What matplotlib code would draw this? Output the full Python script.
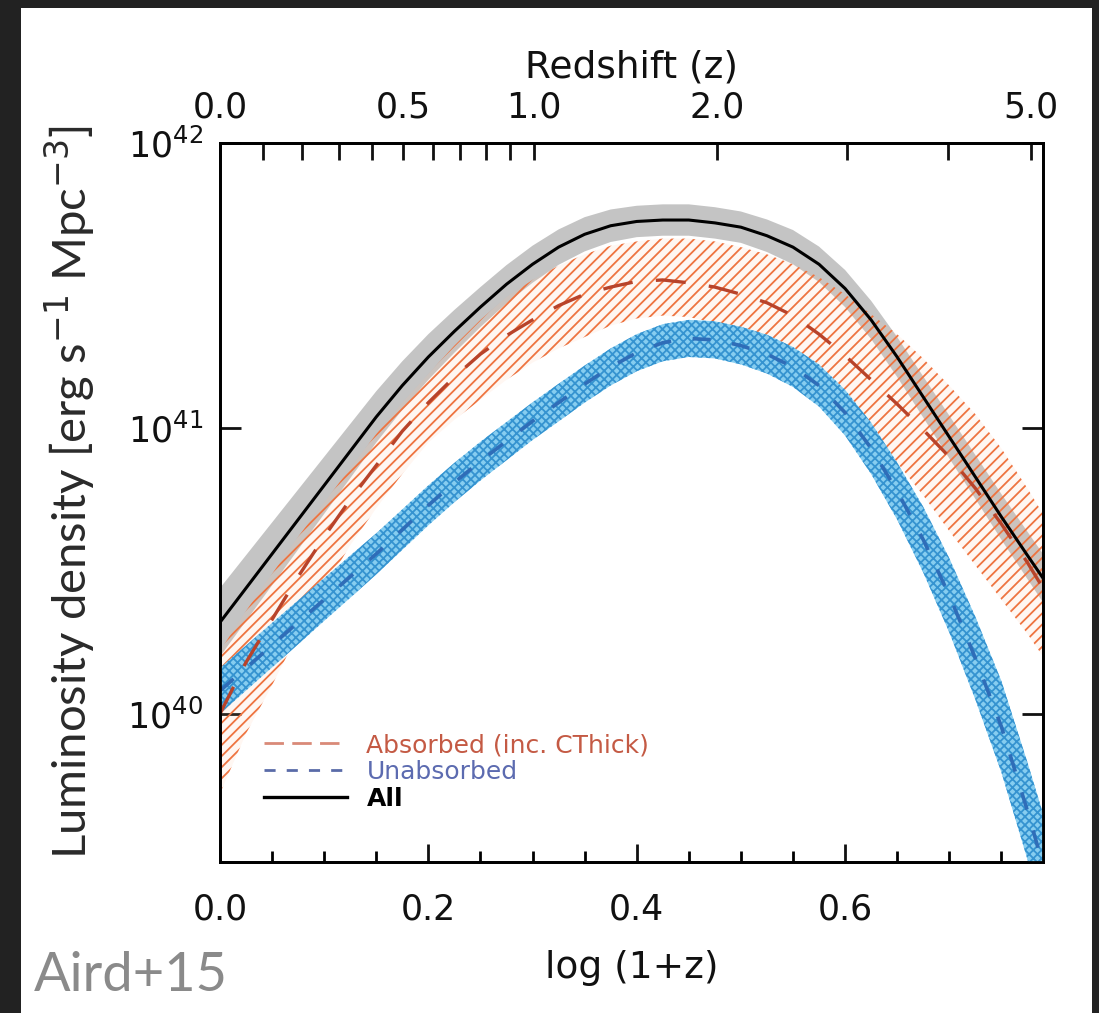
import numpy as np
import matplotlib
matplotlib.use("Agg")
import matplotlib.pyplot as plt
from matplotlib.patches import Rectangle
from matplotlib.lines import Line2D
from matplotlib.ticker import MultipleLocator, NullLocator, FormatStrFormatter, FixedLocator

plt.rcParams['font.family'] = ['DejaVu Sans']
plt.rcParams['hatch.linewidth'] = 1.3

# ---- data (log10 luminosity density vs log(1+z)) ----
logz1 = [0.000, 0.025, 0.050, 0.075, 0.100, 0.125, 0.150, 0.175, 0.200, 0.225,
         0.250, 0.275, 0.300, 0.325, 0.350, 0.375, 0.400, 0.425, 0.450, 0.475,
         0.500, 0.525, 0.550, 0.575, 0.600, 0.625, 0.650, 0.675, 0.700, 0.725,
         0.750, 0.775, 0.790]

all_mid = [40.32, 40.44, 40.56, 40.68, 40.80, 40.92, 41.04, 41.15, 41.25, 41.34,
           41.425, 41.505, 41.575, 41.635, 41.68, 41.71, 41.725, 41.73, 41.73, 41.72,
           41.705, 41.675, 41.635, 41.575, 41.49, 41.38, 41.25, 41.11, 40.97, 40.83,
           40.69, 40.555, 40.475]
all_err = [0.12, 0.115, 0.11, 0.105, 0.10, 0.095, 0.09, 0.085, 0.08, 0.075,
           0.07, 0.067, 0.065, 0.062, 0.06, 0.057, 0.055, 0.055, 0.055, 0.055,
           0.055, 0.057, 0.06, 0.062, 0.065, 0.067, 0.07, 0.072, 0.075, 0.077,
           0.08, 0.083, 0.085]

abs_mid = [40.00, 40.18, 40.33, 40.48, 40.62, 40.75, 40.87, 40.99, 41.09, 41.18,
           41.26, 41.325, 41.38, 41.43, 41.47, 41.495, 41.515, 41.52, 41.51, 41.495,
           41.47, 41.44, 41.395, 41.33, 41.255, 41.17, 41.085, 40.995, 40.90, 40.79,
           40.665, 40.53, 40.44]
abs_hi = [40.22, 40.36, 40.49, 40.62, 40.74, 40.86, 40.98, 41.09, 41.19, 41.29,
          41.38, 41.46, 41.52, 41.57, 41.61, 41.64, 41.655, 41.665, 41.665, 41.655,
          41.635, 41.61, 41.575, 41.53, 41.47, 41.40, 41.33, 41.245, 41.15, 41.05,
          40.93, 40.79, 40.70]
abs_lo = [39.72, 39.93, 40.10, 40.28, 40.44, 40.59, 40.72, 40.84, 40.95, 41.03,
          41.10, 41.17, 41.23, 41.28, 41.32, 41.36, 41.385, 41.395, 41.39, 41.37,
          41.34, 41.30, 41.25, 41.175, 41.08, 40.985, 40.88, 40.765, 40.64, 40.52,
          40.40, 40.28, 40.20]

unabs_mid = [40.08, 40.16, 40.24, 40.32, 40.40, 40.48, 40.56, 40.645, 40.73, 40.81,
             40.885, 40.955, 41.025, 41.09, 41.155, 41.215, 41.265, 41.30, 41.315, 41.31,
             41.29, 41.26, 41.215, 41.15, 41.055, 40.93, 40.78, 40.61, 40.415, 40.195,
             39.955, 39.66, 39.47]
unabs_err = [0.08, 0.079, 0.078, 0.077, 0.075, 0.074, 0.072, 0.071, 0.07, 0.069,
             0.068, 0.067, 0.066, 0.066, 0.065, 0.065, 0.065, 0.065, 0.065, 0.065,
             0.066, 0.068, 0.07, 0.074, 0.08, 0.09, 0.10, 0.115, 0.13, 0.145,
             0.16, 0.17, 0.18]

z_labeled = [0.0, 0.5, 1.0, 2.0, 5.0]
z_minor = [0.1, 0.2, 0.3, 0.4, 0.6, 0.7, 0.8, 0.9, 3.0, 4.0]
z_labels = ["0.0", "0.5", "1.0", "2.0", "5.0"]

legend_labels = ["Absorbed (inc. CThick)", "Unabsorbed", "All"]

# ---- figure ----
W, H = 1099, 1013
fig = plt.figure(figsize=(W / 100, H / 100), dpi=100)
fig.patch.set_facecolor('#222222')
fig.add_artist(Rectangle((21 / W, 0), (1092 - 21) / W, (H - 8) / H,
                         transform=fig.transFigure, facecolor='white',
                         edgecolor='none', zorder=-5))

ax = fig.add_axes([220 / W, (H - 862) / H, (1043 - 220) / W, (862 - 143) / H])
ax.set_facecolor('white')

x = np.array(logz1)
p = lambda a: 10 ** np.array(a)

# grey band for total
ax.fill_between(x, p(np.array(all_mid) - np.array(all_err)),
                p(np.array(all_mid) + np.array(all_err)),
                facecolor='#c4c4c4', edgecolor='none', zorder=1)
# red hatched band for absorbed
ax.fill_between(x, p(abs_lo), p(abs_hi), facecolor=(1.0, 0.75, 0.6, 0.12),
                edgecolor='#ee7440', hatch='///', linewidth=0, zorder=2)
# blue dotted band for unabsorbed
ax.fill_between(x, p(np.array(unabs_mid) - np.array(unabs_err)),
                p(np.array(unabs_mid) + np.array(unabs_err)),
                facecolor='#86cdf0', edgecolor='#3593d0', hatch='xxxx',
                linewidth=0, zorder=3)

ax.plot(x, p(abs_mid), color='#b8432a', lw=2.4, ls=(0, (9, 7)), zorder=4)
ax.plot(x, p(unabs_mid), color='#2f6db8', lw=2.6, ls=(0, (5, 6)), zorder=4)
ax.plot(x, p(all_mid), color='black', lw=2.2, zorder=5)

ax.set_yscale('log')
ax.set_xlim(0, 0.79)
ax.set_ylim(10 ** 39.48, 1e42)

ax.yaxis.set_major_locator(FixedLocator([1e40, 1e41, 1e42]))
ax.yaxis.set_minor_locator(NullLocator())
ax.xaxis.set_major_locator(MultipleLocator(0.2))
ax.xaxis.set_minor_locator(MultipleLocator(0.05))
ax.xaxis.set_major_formatter(FormatStrFormatter('%.1f'))

ax.tick_params(axis='y', which='major', direction='in', length=15, width=2,
               left=True, right=True, labelsize=25, pad=12, colors='#111111')
ax.tick_params(axis='x', which='major', direction='in', length=13, width=2,
               top=False, labelsize=25, pad=22, colors='#111111')
ax.tick_params(axis='x', which='minor', direction='in', length=8, width=2,
               top=False)
for s in ax.spines.values():
    s.set_linewidth(2)

ax.set_xlabel('log (1+z)', fontsize=27, color='#111111')
ax.xaxis.set_label_coords(0.5, (862 - 968) / 719)
ax.xaxis.label.set_va('center')

# top redshift axis
ax2 = ax.twiny()
ax2.set_xlim(0, 0.79)
ax2.set_xticks(np.log10(1 + np.array(z_labeled)))
ax2.set_xticklabels(z_labels)
ax2.set_xticks(np.log10(1 + np.array(z_minor)), minor=True)
ax2.tick_params(axis='x', which='both', direction='in', length=12, width=2,
                labelsize=25, pad=13, colors='#111111')
ax2.set_xlabel('Redshift (z)', fontsize=27, color='#111111')
ax2.xaxis.set_label_coords(0.5, 1 + (143 - 68) / 719)
ax2.xaxis.label.set_va('center')
for s in ax2.spines.values():
    s.set_linewidth(2)

# legend
handles = [
    Line2D([], [], color='#d98a78', lw=2, ls=(0, (7, 3))),
    Line2D([], [], color='#5a6ba8', lw=2, ls=(0, (4, 4))),
    Line2D([], [], color='black', lw=2.4),
]
leg = ax.legend(handles, legend_labels, loc='upper left',
                bbox_to_anchor=((264 - 220) / 823, (862 - 733) / 719),
                frameon=False, fontsize=18, handlelength=3.3,
                handletextpad=0.8, labelspacing=0.12, borderpad=0,
                borderaxespad=0)
for t, c in zip(leg.get_texts(), ['#c45a44', '#5c6bb0', '#000000']):
    t.set_color(c)
leg.get_texts()[2].set_fontweight('bold')

# y label and annotation
fig.text(70 / W, 1 - 492 / H, 'Luminosity density [erg s$^{-1}$ Mpc$^{-3}$]',
         rotation=90, family='Lato', fontsize=34, color='#2a2a2a',
         ha='center', va='center')
fig.text(34 / W, 1 - 975 / H, 'Aird+15', family='Lato', fontsize=39,
         color='#8a8a8a', ha='left', va='center')

fig.savefig('out.png', dpi=100, facecolor=fig.get_facecolor())
